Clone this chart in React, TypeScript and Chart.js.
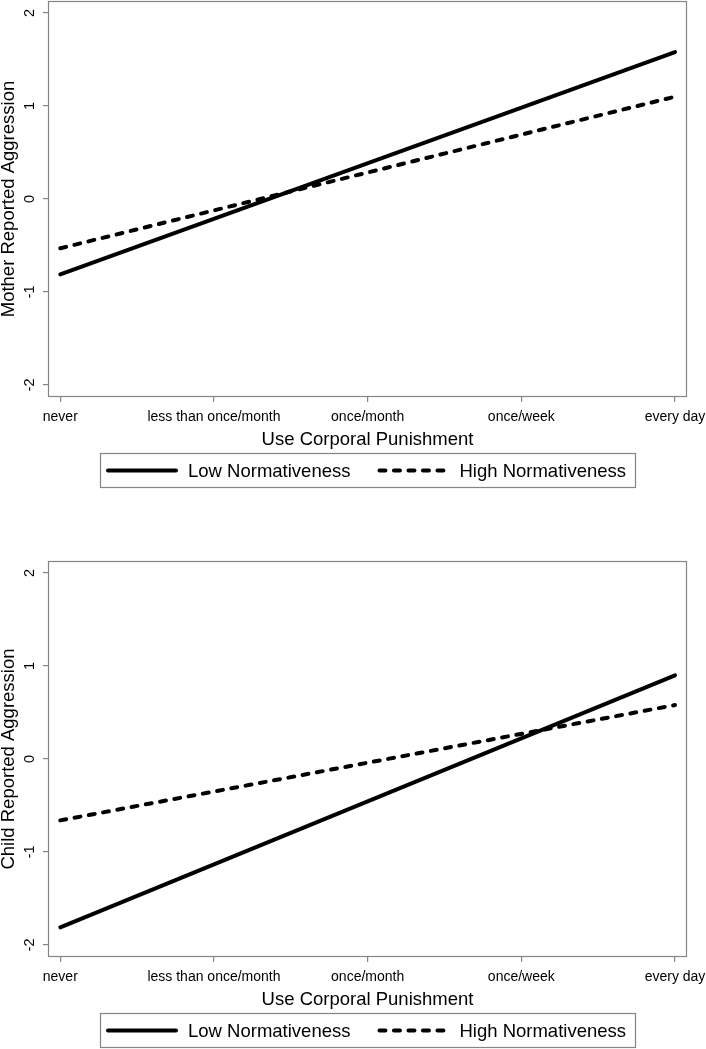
import React, { useEffect, useRef } from "react";
import { Chart, registerables } from "chart.js";

Chart.register(...registerables);

// ---- data ----
const categories = ["never", "less than once/month", "once/month", "once/week", "every day"];
const categoryValues = [0, 1, 2, 3, 4];
const xEnds = [0, 4];
const yTickValues = [2, 1, 0, -1, -2];
const seriesNames = ["Low Normativeness", "High Normativeness"];
const motherLow = [-0.81, 1.58];
const motherHigh = [-0.53, 1.1];
const childLow = [-1.81, 0.9];
const childHigh = [-0.66, 0.58];
const yTitles = ["Mother Reported Aggression", "Child Reported Aggression"];
const xTitle = "Use Corporal Punishment";

const FONT = "Arial, 'Liberation Sans', sans-serif";
const AXIS = "#858585";

const decorPlugin = {
  id: "decor",
  afterDraw(chart: any) {
    const { ctx, chartArea: a, scales } = chart;
    ctx.save();
    // plot box
    ctx.strokeStyle = AXIS;
    ctx.lineWidth = 1.2;
    ctx.setLineDash([]);
    ctx.strokeRect(a.left + 0.5, a.top + 0.5, a.right - a.left - 1, a.bottom - a.top - 1);
    // rotated y tick labels
    ctx.fillStyle = "#000";
    ctx.font = `14.5px ${FONT}`;
    ctx.textAlign = "center";
    ctx.textBaseline = "alphabetic";
    for (const v of yTickValues) {
      const y = scales.y.getPixelForValue(v);
      ctx.save();
      ctx.translate(34, y);
      ctx.rotate(-Math.PI / 2);
      ctx.fillText(String(v), 0, 0);
      ctx.restore();
    }
    // legend box
    const cx = (a.left + a.right) / 2;
    const bw = 535;
    const bh = 34;
    const bx = Math.round(cx - bw / 2);
    const by = Math.round(a.bottom + 56);
    ctx.strokeStyle = AXIS;
    ctx.lineWidth = 1.2;
    ctx.strokeRect(bx + 0.5, by + 0.5, bw, bh);
    const ly = by + bh / 2 + 0.5;
    let x = bx + 6;
    chart.data.datasets.forEach((ds: any) => {
      ctx.beginPath();
      ctx.setLineDash(ds.borderDash || []);
      ctx.lineCap = ds.borderCapStyle || "butt";
      ctx.lineWidth = ds.borderWidth;
      ctx.strokeStyle = ds.borderColor;
      ctx.moveTo(x + 2, ly);
      ctx.lineTo(x + 72 - 2, ly);
      ctx.stroke();
      ctx.setLineDash([]);
      x += 72 + 10;
      ctx.font = `18.5px ${FONT}`;
      ctx.textAlign = "left";
      ctx.textBaseline = "middle";
      ctx.fillStyle = "#000";
      ctx.fillText(ds.label, x, ly + 1);
      x += ctx.measureText(ds.label).width + 27;
    });
    ctx.restore();
  },
};

function Panel({ low, high, yTitle, height, padBottom, top }: any) {
  const ref = useRef<HTMLCanvasElement | null>(null);
  useEffect(() => {
    if (!ref.current) return;
    const gridOpts = {
      display: true,
      drawOnChartArea: false,
      drawTicks: true,
      tickLength: 5,
      color: AXIS,
      lineWidth: 1.2,
    };
    const chart = new Chart(ref.current, {
      type: "line",
      data: {
        datasets: [
          {
            label: seriesNames[0],
            data: xEnds.map((x, i) => ({ x, y: low[i] })),
            borderColor: "#000",
            backgroundColor: "#000",
            borderWidth: 4,
            borderCapStyle: "round",
            pointRadius: 0,
            fill: false,
            tension: 0,
          },
          {
            label: seriesNames[1],
            data: xEnds.map((x, i) => ({ x, y: high[i] })),
            borderColor: "#000",
            backgroundColor: "#000",
            borderWidth: 4,
            borderDash: [6, 8.5],
            borderCapStyle: "round",
            pointRadius: 0,
            fill: false,
            tension: 0,
          },
        ],
      },
      options: {
        animation: false,
        responsive: false,
        maintainAspectRatio: false,
        devicePixelRatio: 1,
        layout: { padding: { left: 0, right: 19, top: 1, bottom: padBottom } },
        plugins: { legend: { display: false }, tooltip: { enabled: false } },
        scales: {
          x: {
            type: "linear",
            min: -0.08,
            max: 4.078,
            afterBuildTicks: (s: any) => {
              s.ticks = categoryValues.map((v) => ({ value: v }));
            },
            afterFit: (s: any) => {
              s.height = 54;
              s.paddingLeft = 0;
              s.paddingRight = 0;
            },
            grid: gridOpts,
            border: { display: false },
            ticks: {
              color: "#000",
              font: { family: FONT, size: 14 },
              padding: 6.5,
              maxRotation: 0,
              minRotation: 0,
              autoSkip: false,
              callback: (v: any) => categories[v] ?? "",
            },
            title: {
              display: true,
              text: xTitle,
              color: "#000",
              font: { family: FONT, size: 18.5, lineHeight: 1.2 },
              padding: { top: 0, bottom: 0 },
            },
          },
          y: {
            type: "linear",
            min: -2.129,
            max: 2.129,
            afterBuildTicks: (s: any) => {
              s.ticks = yTickValues.map((v) => ({ value: v }));
            },
            afterFit: (s: any) => {
              s.width = 48;
              s.paddingTop = 0;
              s.paddingBottom = 0;
            },
            grid: gridOpts,
            border: { display: false },
            ticks: { display: false },
            title: {
              display: true,
              text: yTitle,
              color: "#000",
              font: { family: FONT, size: 18.5, lineHeight: 1 },
              padding: { top: 0, bottom: 0 },
            },
          },
        },
      } as any,
      plugins: [decorPlugin],
    } as any);
    return () => chart.destroy();
  }, [low, high, yTitle, height, padBottom]);
  return (
    <canvas
      ref={ref}
      width={706}
      height={height}
      style={{ position: "absolute", left: 0, top, width: 706, height, display: "block" }}
    />
  );
}

export default function App() {
  return (
    <div
      style={{
        position: "absolute",
        left: 0,
        top: 0,
        width: 706,
        height: 1049,
        background: "#fff",
        overflow: "hidden",
      }}
    >
      <Panel low={motherLow} high={motherHigh} yTitle={yTitles[0]} height={560} padBottom={109} top={0} />
      <Panel low={childLow} high={childHigh} yTitle={yTitles[1]} height={489} padBottom={38} top={560} />
    </div>
  );
}
